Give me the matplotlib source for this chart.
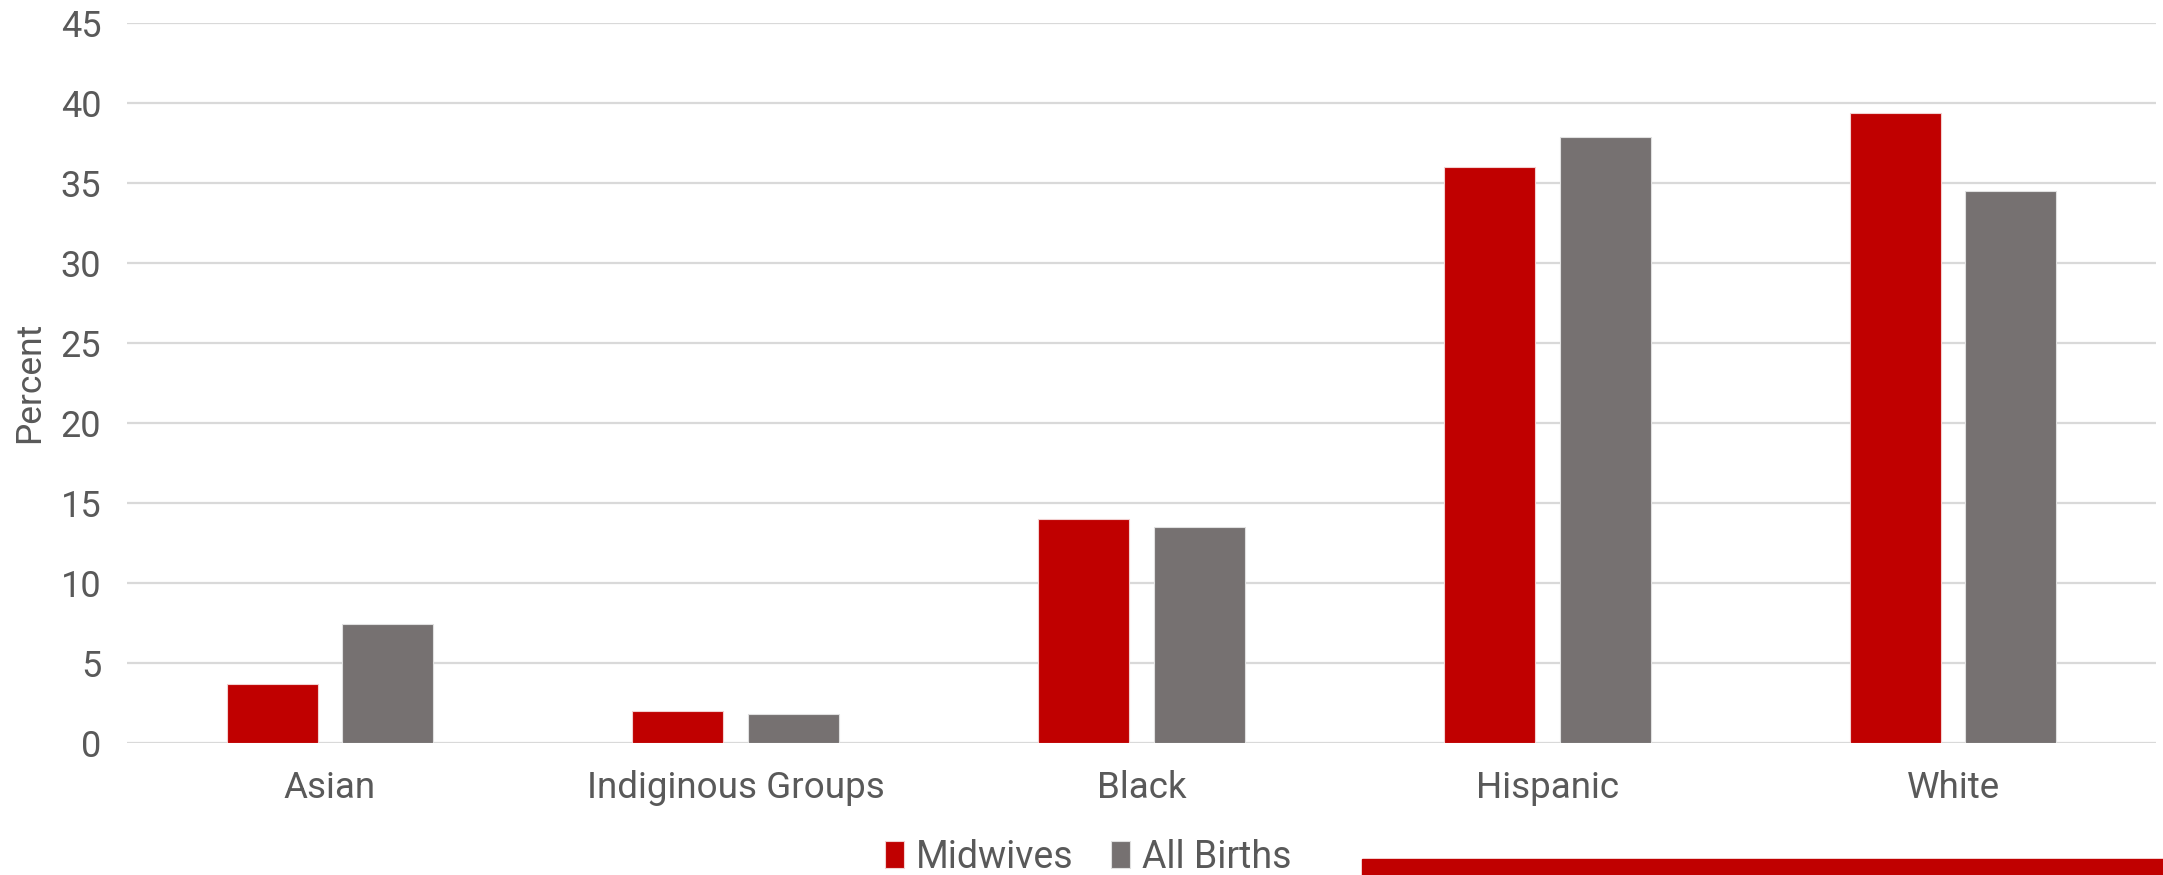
import numpy as np
import matplotlib
matplotlib.use('Agg')
from matplotlib import pyplot as plt
from matplotlib.patches import Rectangle

plt.rcParams['font.family'] = ['Roboto', 'DejaVu Sans']

categories = ['Asian', 'Indiginous Groups', 'Black', 'Hispanic', 'White']
midwives = [3.7, 2.0, 14.0, 36.0, 39.4]
all_births = [7.4, 1.8, 13.5, 37.9, 34.5]
series_names = ['Midwives', 'All Births']
yticks = [0, 5, 10, 15, 20, 25, 30, 35, 40, 45]

red = '#C00000'
gray = '#767171'
text_col = '#595959'

fig = plt.figure(figsize=(21.63, 8.75), dpi=100)
ax = fig.add_axes([127/2163, 1 - 742.7/875, (2156 - 127)/2163, (742.7 - 23.3)/875])

x = np.arange(len(categories))
w = 0.224
off = 0.1424
ax.bar(x - off, midwives, w, color=red, edgecolor='#F2D0D0', linewidth=0.8, label=series_names[0], zorder=3)
ax.bar(x + off, all_births, w, color=gray, edgecolor='#E0E0E0', linewidth=0.8, label=series_names[1], zorder=3)

ax.set_xlim(-0.5, len(categories) - 0.5)
ax.set_ylim(0, 45)
ax.set_yticks(yticks)
ax.set_xticks(x)
ax.set_xticklabels(categories)
ax.tick_params(axis='both', length=0, colors=text_col)
ax.tick_params(axis='y', pad=18.5, labelsize=26)
ax.tick_params(axis='x', pad=20, labelsize=26.5)
ax.grid(axis='y', color='#D9D9D9', linewidth=1.6, zorder=0)
for s in ax.spines.values():
    s.set_visible(False)
fig.text(30/2163, 1 - 382/875, 'Percent', rotation=90, ha='center', va='center',
         fontsize=25.5, color=text_col)

fig.legend(loc='center', bbox_to_anchor=(1088/2163, 1 - 857/875), ncol=2, frameon=False,
           fontsize=27, labelcolor=text_col, handlelength=0.52, handleheight=0.72,
           handletextpad=0.3, columnspacing=1.0, borderaxespad=0)

fig.patches.append(Rectangle((1361.6/2163, 0), 1 - 1361.6/2163, (875 - 858.5)/875,
                             transform=fig.transFigure, color=red, zorder=5))

fig.savefig('out.png', dpi=100)
